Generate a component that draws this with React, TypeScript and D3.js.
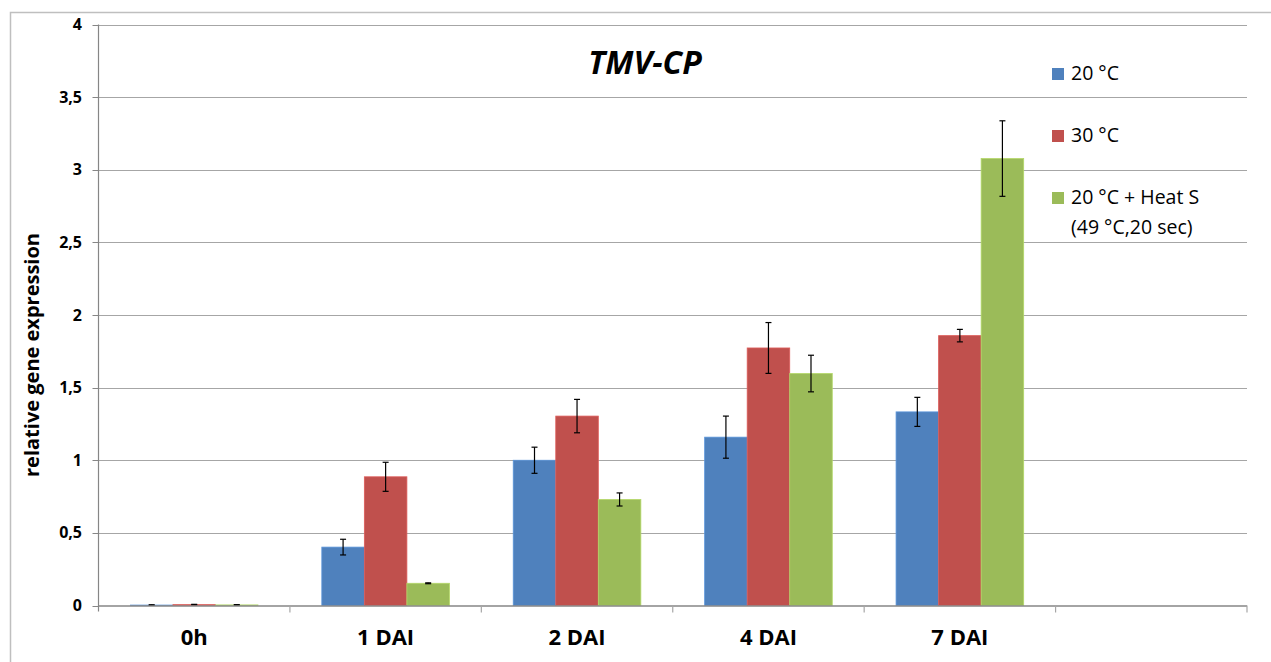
import React from "react";
import * as d3 from "d3";

const categories = ["0h", "1 DAI", "2 DAI", "4 DAI", "7 DAI", ""];
const seriesNames = ["20 °C", "30 °C", "20 °C + Heat S"];
const seriesNames2 = ["", "", "(49 °C,20 sec)"];
const seriesColors = ["#4F81BD", "#C0504D", "#9BBB59"];
const values20 = [0.003, 0.402, 1.0, 1.159, 1.333, null];
const values30 = [0.006, 0.886, 1.304, 1.773, 1.858, null];
const valuesHeat = [0.004, 0.153, 0.73, 1.597, 3.077, null];
const err20 = [0.002, 0.054, 0.09, 0.145, 0.1, null];
const err30 = [0.002, 0.1, 0.115, 0.175, 0.043, null];
const errHeat = [0.002, 0.003, 0.045, 0.126, 0.26, null];
const yTicks = [0, 0.5, 1, 1.5, 2, 2.5, 3, 3.5, 4];
const chartTitle = "TMV-CP";
const yTitle = "relative gene expression";

const W = 1271;
const H = 662;
const FONT = "'Open Sans', 'Noto Sans', sans-serif";

export default function App() {
  const left = 98.5;
  const right = 1247;
  const top = 24.5;
  const bottom = 605.5;
  const y = d3.scaleLinear().domain([0, 4]).range([bottom, top]);
  const x = d3.scaleBand().domain(categories.map((c, i) => String(i))).range([left, right]).paddingInner(0).paddingOuter(0);
  const bw = x.bandwidth() / 4.5;
  const offset = (x.bandwidth() - 3 * bw) / 2;
  const series = [values20, values30, valuesHeat];
  const errs = [err20, err30, errHeat];
  const fmt = (v: number) => String(v).replace(".", ",");

  return (
    <svg width={W} height={H} style={{ position: "absolute", left: 0, top: 0, background: "#fff" }} fontFamily={FONT}>
      <rect x={10.5} y={12.5} width={W} height={H} fill="#fff" stroke="#BFBFBF" strokeWidth={1.5} />
      {yTicks.map((t) => (
        <g key={t}>
          {t > 0 && <line x1={left} x2={right} y1={Math.round(y(t)) + 0.5} y2={Math.round(y(t)) + 0.5} stroke="#A6A6A6" strokeWidth={1.2} />}
          <line x1={left - 6} x2={left} y1={Math.round(y(t)) + 0.5} y2={Math.round(y(t)) + 0.5} stroke="#868686" />
          <text x={82} y={y(t) + 5.5} textAnchor="end" fontSize={16} fontWeight="bold" fill="#000">{fmt(t)}</text>
        </g>
      ))}
      {series.map((vals, si) =>
        vals.map((v, ci) =>
          v == null ? null : (
            <rect
              key={`b${si}-${ci}`}
              x={(x(String(ci)) as number) + offset + si * bw}
              y={y(v)}
              width={bw}
              height={y(0) - y(v)}
              fill={seriesColors[si]}
              stroke={d3.color(seriesColors[si])!.brighter(0.4).formatHex()}
              strokeWidth={0.8}
            />
          )
        )
      )}
      {series.map((vals, si) =>
        vals.map((v, ci) => {
          const e = errs[si][ci];
          if (v == null || e == null) return null;
          const cx = (x(String(ci)) as number) + offset + si * bw + bw / 2;
          return (
            <g key={`e${si}-${ci}`} stroke="#000" strokeWidth={1.2}>
              <line x1={cx} x2={cx} y1={y(v + e)} y2={y(v - e)} />
              <line x1={cx - 3} x2={cx + 3} y1={y(v + e)} y2={y(v + e)} />
              <line x1={cx - 3} x2={cx + 3} y1={y(v - e)} y2={y(v - e)} />
            </g>
          );
        })
      )}
      <line x1={left} x2={left} y1={top} y2={bottom + 6} stroke="#868686" strokeWidth={1.2} />
      <line x1={left} x2={right} y1={bottom + 0.5} y2={bottom + 0.5} stroke="#868686" strokeWidth={1.5} />
      {categories.map((c, i) => (
        <g key={`xt${i}`}>
          <line x1={(x(String(i)) as number) + x.bandwidth()} x2={(x(String(i)) as number) + x.bandwidth()} y1={bottom} y2={bottom + 7} stroke="#A6A6A6" strokeWidth={1.2} />
          <text x={(x(String(i)) as number) + x.bandwidth() / 2} y={645} textAnchor="middle" fontSize={22} fontWeight="bold" fill="#000">{c}</text>
        </g>
      ))}
      <text x={645} y={74} textAnchor="middle" fontSize={32} fontWeight="bold" fontStyle="italic" fill="#000">{chartTitle}</text>
      <text transform="translate(39,355) rotate(-90)" textAnchor="middle" fontSize={20} fontWeight="bold" fill="#000">{yTitle}</text>
      {seriesNames.map((n, i) => (
        <g key={`l${i}`}>
          <rect x={1052} y={68 + i * 62} width={12} height={12} fill={seriesColors[i]} />
          <text x={1071} y={79.5 + i * 62} fontSize={19.5} fill="#000">{n}</text>
          {seriesNames2[i] && <text x={1071} y={109.5 + i * 62} fontSize={19.5} fill="#000">{seriesNames2[i]}</text>}
        </g>
      ))}
    </svg>
  );
}
